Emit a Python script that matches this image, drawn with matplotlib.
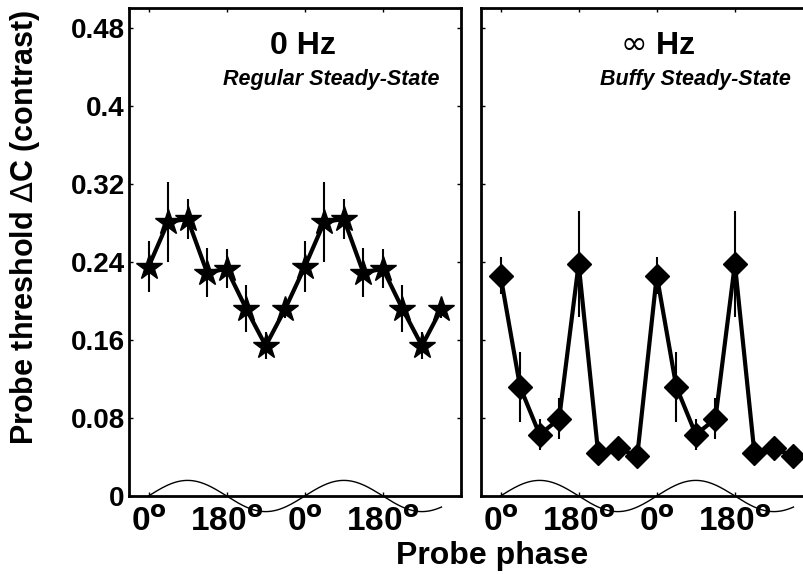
import numpy as np
import matplotlib
matplotlib.use("Agg")
import matplotlib.pyplot as plt

plt.rcParams['font.family'] = ['Liberation Sans', 'DejaVu Sans']
plt.rcParams['font.weight'] = 'bold'
# thin symbol glyphs (delta, infinity) in math text; bold ring for degrees
plt.rcParams['mathtext.fontset'] = 'custom'
plt.rcParams['mathtext.rm'] = 'DejaVu Sans:weight=normal'
plt.rcParams['mathtext.bf'] = 'DejaVu Sans:weight=bold'
plt.rcParams['mathtext.it'] = 'DejaVu Sans:weight=normal'
plt.rcParams['mathtext.sf'] = 'DejaVu Sans:weight=normal'

# Probe phase (deg), two cycles at 45 deg steps
phase = [0, 45, 90, 135, 180, 225, 270, 315,
         360, 405, 450, 495, 540, 585, 630, 675]

# 0 Hz : regular steady-state
thr_regular = [0.235, 0.281, 0.284, 0.229, 0.233, 0.192, 0.154, 0.192,
               0.235, 0.281, 0.284, 0.229, 0.233, 0.192, 0.154, 0.192]
err_regular = [0.026, 0.041, 0.021, 0.025, 0.020, 0.024, 0.014, 0.009,
               0.026, 0.041, 0.021, 0.025, 0.020, 0.024, 0.014, 0.009]

# infinite Hz : buffy steady-state
thr_buffy = [0.226, 0.112, 0.063, 0.079, 0.238, 0.044, 0.049, 0.041,
             0.226, 0.112, 0.063, 0.079, 0.238, 0.044, 0.049, 0.041]
err_buffy = [0.019, 0.036, 0.016, 0.021, 0.054, 0.005, 0.005, 0.005,
             0.019, 0.036, 0.016, 0.021, 0.054, 0.005, 0.005, 0.005]

xtick_pos = [0, 180, 360, 540]
xtick_lab = [r'0$^{\mathbf{o}}$', r'180$^{\mathbf{o}}$',
             r'0$^{\mathbf{o}}$', r'180$^{\mathbf{o}}$']
ytick_pos = [0, 0.08, 0.16, 0.24, 0.32, 0.4, 0.48]
ytick_lab = ['0', '0.08', '0.16', '0.24', '0.32', '0.4', '0.48']

W, H = 804, 574
fig = plt.figure(figsize=(W / 100, H / 100), dpi=100)

ax_l = fig.add_axes([129 / W, 1 - 496 / H, 332 / W, 487.7 / H])
ax_r = fig.add_axes([481 / W, 1 - 496 / H, 332 / W, 487.7 / H])

# stimulus luminance modulation drawn under the axis
stim_x = np.linspace(0, 675, 400)
stim_y = 0.016 * np.sin(np.radians(stim_x))

for ax in (ax_l, ax_r):
    ax.set_xlim(-45, 720)
    ax.set_ylim(0, 0.5)
    for s in ax.spines.values():
        s.set_linewidth(2)
    ax.set_xticks(xtick_pos)
    ax.set_xticklabels(xtick_lab, fontsize=24, fontweight='bold')
    ax.set_yticks(ytick_pos)
    ax.tick_params(direction='in', length=3, width=1, top=True, right=True)
    ax.tick_params(axis='x', pad=8)
    ax.tick_params(axis='y', pad=3)
    ax.plot(stim_x, stim_y, color='black', lw=1.0, clip_on=False, zorder=1)

ax_l.set_yticklabels(ytick_lab, fontsize=20, fontweight='bold')
ax_r.set_yticklabels([])

ax_l.errorbar(phase, thr_regular, yerr=err_regular, fmt='-', color='black',
              lw=3, elinewidth=1.5, capsize=0, marker='*', ms=19, zorder=3)
ax_r.errorbar(phase, thr_buffy, yerr=err_buffy, fmt='-', color='black',
              lw=3, elinewidth=1.5, capsize=0, marker='D', ms=12, zorder=3)

ax_l.text(356, 0.453, '0 Hz', ha='center', va='baseline', fontsize=23,
          fontweight='bold')
ax_l.text(422, 0.4215, 'Regular Steady-State', ha='center', va='baseline',
          fontsize=15.5, fontweight='bold', style='italic')
ax_r.text(363, 0.453, r'$\infty$ Hz', ha='center', va='baseline', fontsize=23,
          fontweight='bold')
ax_r.text(448, 0.4215, 'Buffy Steady-State', ha='center', va='baseline',
          fontsize=15.5, fontweight='bold', style='italic')

fig.text(25 / W, 1 - 227.5 / H, r'Probe threshold $\Delta$C (contrast)',
         rotation=90, ha='center', va='center', fontsize=22, fontweight='bold')
fig.text(492 / W, 1 - 564 / H, 'Probe phase', ha='center', va='baseline',
         fontsize=23, fontweight='bold')

fig.savefig('out.png', dpi=100)
